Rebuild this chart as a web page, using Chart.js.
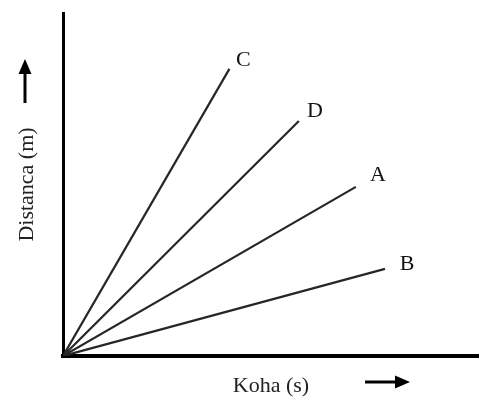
<!DOCTYPE html>
<html>
<head>
<meta charset="utf-8">
<title>Distanca - Koha</title>
<script src="https://cdn.jsdelivr.net/npm/chart.js@4"></script>
<style>
  body { margin: 0; background: #fff; }
  canvas { display: block; }
</style>
</head>
<body>
<canvas id="myChart" width="479" height="399"></canvas>
<script>
// emrat e vijave dhe pikat ku perfundojne (koha, distanca)
const names = ["C", "D", "A", "B"];
const endTime = [4.0, 5.67, 7.04, 7.74];
const endDistance = [8.37, 6.85, 4.93, 2.54];

const ctx = document.getElementById("myChart");
const serif = "'Liberation Serif', 'DejaVu Serif', serif";

// shkronja prane fundit te cdo vije
const lineLabels = {
  id: "lineLabels",
  afterDatasetsDraw(chart) {
    const c = chart.ctx;
    const shift = { C: [14, -9], D: [16, -10], A: [22, -12], B: [22, -5] };
    c.save();
    c.font = "22px " + serif;
    c.fillStyle = "#111";
    c.textAlign = "center";
    c.textBaseline = "middle";
    chart.data.datasets.forEach((ds, i) => {
      const pt = chart.getDatasetMeta(i).data[1];
      const d = shift[ds.label] || [18, -9];
      c.fillText(ds.label, pt.x + d[0], pt.y + d[1]);
    });
    c.restore();
  }
};

// shigjetat prane titujve te boshteve
const arrows = {
  id: "arrows",
  afterDraw(chart) {
    const c = chart.ctx;
    c.save();
    c.strokeStyle = "#000";
    c.fillStyle = "#000";
    c.lineWidth = 3;
    // lart
    c.beginPath();
    c.moveTo(25, 103);
    c.lineTo(25, 70);
    c.stroke();
    c.beginPath();
    c.moveTo(25, 59);
    c.lineTo(31.5, 74);
    c.lineTo(18.5, 74);
    c.closePath();
    c.fill();
    // djathtas
    c.beginPath();
    c.moveTo(365, 382);
    c.lineTo(398, 382);
    c.stroke();
    c.beginPath();
    c.moveTo(410, 382);
    c.lineTo(395, 375.5);
    c.lineTo(395, 388.5);
    c.closePath();
    c.fill();
    c.restore();
  }
};

new Chart(ctx, {
  type: "scatter",
  data: {
    datasets: names.map((n, i) => ({
      label: n,
      data: [{ x: 0, y: 0 }, { x: endTime[i], y: endDistance[i] }],
      showLine: true,
      borderColor: "#262626",
      borderWidth: 2.2,
      pointRadius: 0
    }))
  },
  plugins: [lineLabels, arrows],
  options: {
    responsive: false,
    animation: false,
    layout: { padding: { left: 0, top: 13, right: 0, bottom: 0 } },
    plugins: {
      legend: { display: false },
      tooltip: { enabled: false }
    },
    scales: {
      x: {
        type: "linear",
        min: 0,
        max: 10,
        grid: { display: false, drawTicks: false },
        ticks: { display: false },
        border: { display: true, color: "#000", width: 4 },
        title: {
          display: true,
          text: "Koha (s)",
          color: "#222",
          font: { family: serif, size: 22 },
          padding: { top: 16.6, bottom: 0 }
        }
      },
      y: {
        min: 0,
        max: 10,
        grid: { display: false, drawTicks: false },
        ticks: { display: false },
        border: { display: true, color: "#000", width: 3 },
        title: {
          display: true,
          text: "Distanca (m)",
          color: "#222",
          font: { family: serif, size: 22 },
          padding: { top: 13.8, bottom: 22.8 }
        }
      }
    }
  }
});
</script>
</body>
</html>
